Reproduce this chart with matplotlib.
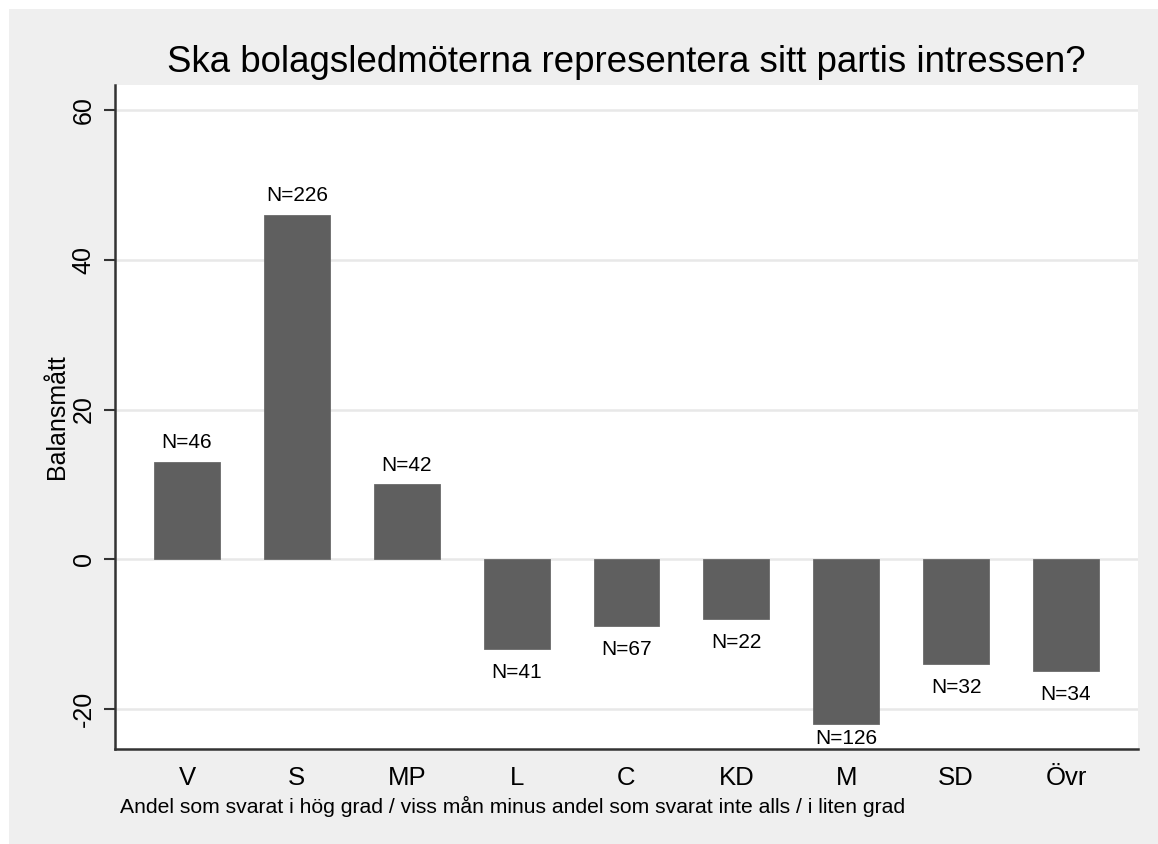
import matplotlib
matplotlib.use("Agg")
import matplotlib.pyplot as plt
from matplotlib.patches import Rectangle

categories = ["V", "S", "MP", "L", "C", "KD", "M", "SD", "Övr"]
values = [13, 46, 10, -12, -9, -8, -22, -14, -15]
counts = [46, 226, 42, 41, 67, 22, 126, 32, 34]
yticks = [-20, 0, 20, 40, 60]

plt.rcParams['font.family'] = ['Liberation Sans', 'DejaVu Sans']

W, H = 1158, 844
fig = plt.figure(figsize=(W / 100, H / 100), dpi=100, facecolor="white")
fig.patches.append(Rectangle((9 / W, 0), 1, 1 - 9 / H, transform=fig.transFigure,
                             facecolor="#efefef", edgecolor="none", zorder=-10))

ax = fig.add_axes([115 / W, 1 - 749 / H, (1138 - 115) / W, (749 - 85) / H])
ax.set_facecolor("white")

YMIN, YMAX = -25.4, 63.4
x = list(range(len(categories)))
ax.bar(x, values, width=0.6, color="#5f5f5f", edgecolor="#6a6a6a", linewidth=0.6, zorder=3)

label_space = 4.1  # data units needed below a negative bar for its label
for xi, v, n in zip(x, values, counts):
    if v >= 0:
        ax.annotate(f"N={n}", (xi, v), xytext=(0, 7), textcoords="offset points",
                    ha="center", va="bottom", fontsize=15, zorder=4)
    elif v - label_space < YMIN:
        ax.annotate(f"N={n}", (xi, YMIN), xytext=(0, 1), textcoords="offset points",
                    ha="center", va="bottom", fontsize=15, zorder=4)
    else:
        ax.annotate(f"N={n}", (xi, v), xytext=(0, -10), textcoords="offset points",
                    ha="center", va="top", fontsize=15, zorder=4)

ax.set_xlim(-0.655, 8.655)
ax.set_ylim(YMIN, YMAX)
ax.set_yticks(yticks)
ax.set_yticklabels([str(t) for t in yticks], rotation=90, va="center", fontsize=18)
ax.set_xticks(x)
ax.set_xticklabels(categories, fontsize=18.5)
ax.tick_params(axis="x", length=0, pad=12)
ax.tick_params(axis="y", length=8, width=1.5, color="#333333", pad=6)
ax.grid(axis="y", color="#e8e8e8", linewidth=1.8, zorder=0)
ax.set_axisbelow(True)

for s in ["top", "right"]:
    ax.spines[s].set_visible(False)
for s in ["left", "bottom"]:
    ax.spines[s].set_color("#333333")
    ax.spines[s].set_linewidth(1.8)

ax.set_ylabel("Balansmått", fontsize=18, labelpad=2)

fig.text((115 + 1138) / 2 / W, 1 - 62 / H, "Ska bolagsledmöterna representera sitt partis intressen?",
         ha="center", va="center", fontsize=26.4)
fig.text(120 / W, 1 - 806 / H,
         "Andel som svarat i hög grad / viss mån minus andel som svarat inte alls / i liten grad",
         ha="left", va="center", fontsize=15.2)

fig.savefig("out.png", dpi=100, facecolor=fig.get_facecolor())
